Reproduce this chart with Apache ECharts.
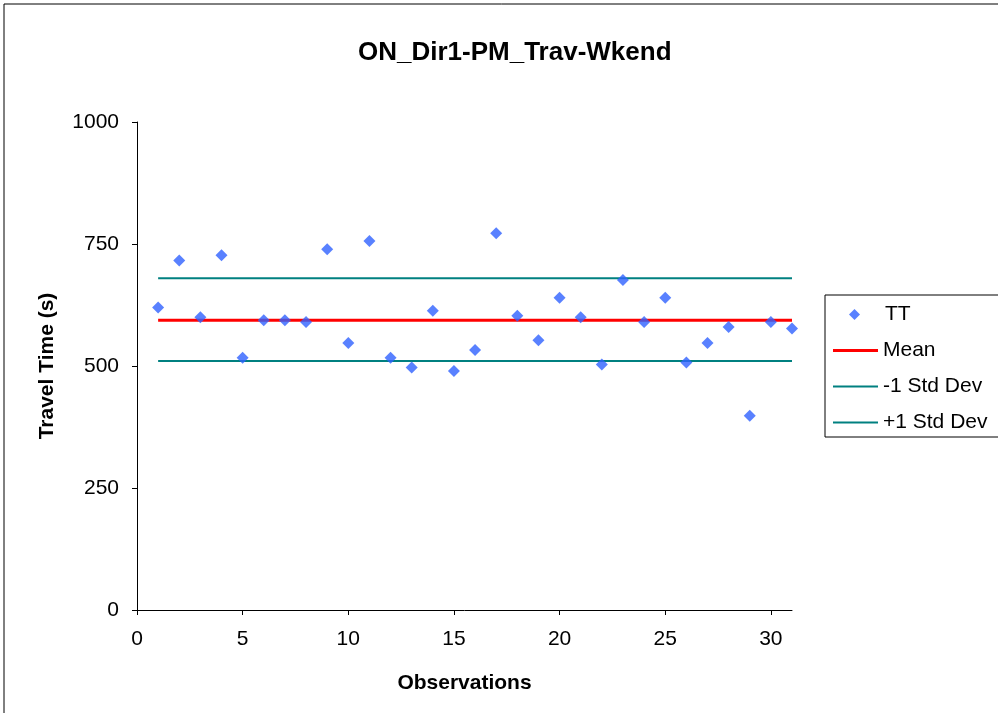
<!DOCTYPE html>
<html>
<head>
<meta charset="utf-8">
<script src="https://cdn.jsdelivr.net/npm/echarts@6/dist/echarts.min.js"></script>
<style>
  html, body { margin: 0; padding: 0; background: #fff; }
  #chart { width: 998px; height: 713px; }
</style>
</head>
<body>
<div id="chart"></div>
<script>
// observation numbers
const observations = [1, 2, 3, 4, 5, 6, 7, 8, 9, 10, 11, 12, 13, 14, 15, 16,
  17, 18, 19, 20, 21, 22, 23, 24, 25, 26, 27, 28, 29, 30, 31]

// travel times (s)
const travelTimes = [620, 716, 600, 727, 517, 594, 594, 590, 739, 547, 756,
  517, 497, 613, 490, 533, 772, 603, 553, 640, 600, 503, 676, 590, 640, 507,
  547, 580, 398, 590, 577]

// reference lines
const meanValue = 594
const minusStd = 510
const plusStd = 680

const yTicks = [0, 250, 500, 750, 1000]
const xTicks = [0, 5, 10, 15, 20, 25, 30]

const font = 'Liberation Sans, Arial, sans-serif'
const firstObs = observations[0]
const lastObs = observations[observations.length - 1]

const chart = echarts.init(document.getElementById('chart'))

// 水平参考线
const hLine = (name, value, color, width) => ({
  name: name,
  type: 'line',
  symbol: 'none',
  silent: true,
  data: [[firstObs, value], [lastObs, value]],
  lineStyle: { color: color, width: width },
  itemStyle: { color: color },
  z: 2
})

const legendText = { fontFamily: font, fontSize: 21, color: '#000', lineHeight: 20 }

const option = {
  animation: false,
  backgroundColor: '#fff',
  textStyle: { fontFamily: font },
  title: {
    text: 'ON_Dir1-PM_Trav-Wkend',
    left: 353,
    top: 35,
    textStyle: { fontFamily: font, fontSize: 26, fontWeight: 'bold', color: '#000' }
  },
  graphic: [
    {
      type: 'rect',
      shape: { x: 4, y: 4, width: 1100, height: 800 },
      style: { fill: 'none', stroke: '#000', lineWidth: 1 },
      silent: true,
      z: -1
    },
    {
      type: 'rect',
      shape: { x: 825, y: 295, width: 300, height: 142 },
      style: { fill: 'none', stroke: '#000', lineWidth: 1 },
      silent: true,
      z: -1
    }
  ],
  legend: [
    {
      orient: 'vertical',
      left: 849,
      top: 304,
      itemWidth: 11,
      itemHeight: 11,
      padding: 0,
      textStyle: Object.assign({}, legendText, { padding: [0, 0, 0, 20] }),
      data: [{ name: 'TT', icon: 'diamond' }]
    },
    {
      orient: 'vertical',
      left: 833,
      top: 340,
      itemWidth: 45,
      itemHeight: 3,
      padding: 0,
      textStyle: legendText,
      data: [{ name: 'Mean', icon: 'rect' }]
    },
    {
      orient: 'vertical',
      left: 833,
      top: 376,
      itemWidth: 45,
      itemHeight: 2,
      itemGap: 15,
      padding: 0,
      textStyle: legendText,
      data: [{ name: '-1 Std Dev', icon: 'rect' }, { name: '+1 Std Dev', icon: 'rect' }]
    }
  ],
  grid: {
    left: 137,
    right: 206,
    top: 122,
    bottom: 103,
    containLabel: false
  },
  xAxis: {
    type: 'value',
    min: 0,
    max: 31,
    interval: 5,
    name: 'Observations',
    nameLocation: 'middle',
    nameGap: 63,
    nameTextStyle: { fontFamily: font, fontSize: 21, fontWeight: 'bold', color: '#000' },
    axisLine: { show: true, lineStyle: { color: '#000', width: 1 } },
    axisTick: { show: true, length: 5, lineStyle: { color: '#000' } },
    axisLabel: {
      color: '#000',
      fontSize: 21,
      margin: 19,
      showMaxLabel: false,
      formatter: v => (xTicks.includes(v) ? String(v) : '')
    },
    splitLine: { show: false }
  },
  yAxis: {
    type: 'value',
    min: 0,
    max: 1000,
    interval: 250,
    name: 'Travel Time (s)',
    nameLocation: 'middle',
    nameGap: 79,
    nameTextStyle: { fontFamily: font, fontSize: 21, fontWeight: 'bold', color: '#000' },
    axisLine: { show: true, lineStyle: { color: '#000', width: 1 } },
    axisTick: { show: true, length: 5, lineStyle: { color: '#000' } },
    axisLabel: {
      color: '#000',
      fontSize: 21,
      margin: 18,
      formatter: v => (yTicks.includes(v) ? String(v) : '')
    },
    splitLine: { show: false }
  },
  series: [
    {
      name: 'TT',
      type: 'scatter',
      symbol: 'diamond',
      symbolSize: 12,
      data: observations.map((o, i) => [o, travelTimes[i]]),
      itemStyle: { color: '#2f62ff' },
      z: 5
    },
    hLine('Mean', meanValue, '#ff0000', 3),
    hLine('-1 Std Dev', minusStd, '#008080', 2),
    hLine('+1 Std Dev', plusStd, '#008080', 2)
  ]
}

chart.setOption(option)
</script>
</body>
</html>
